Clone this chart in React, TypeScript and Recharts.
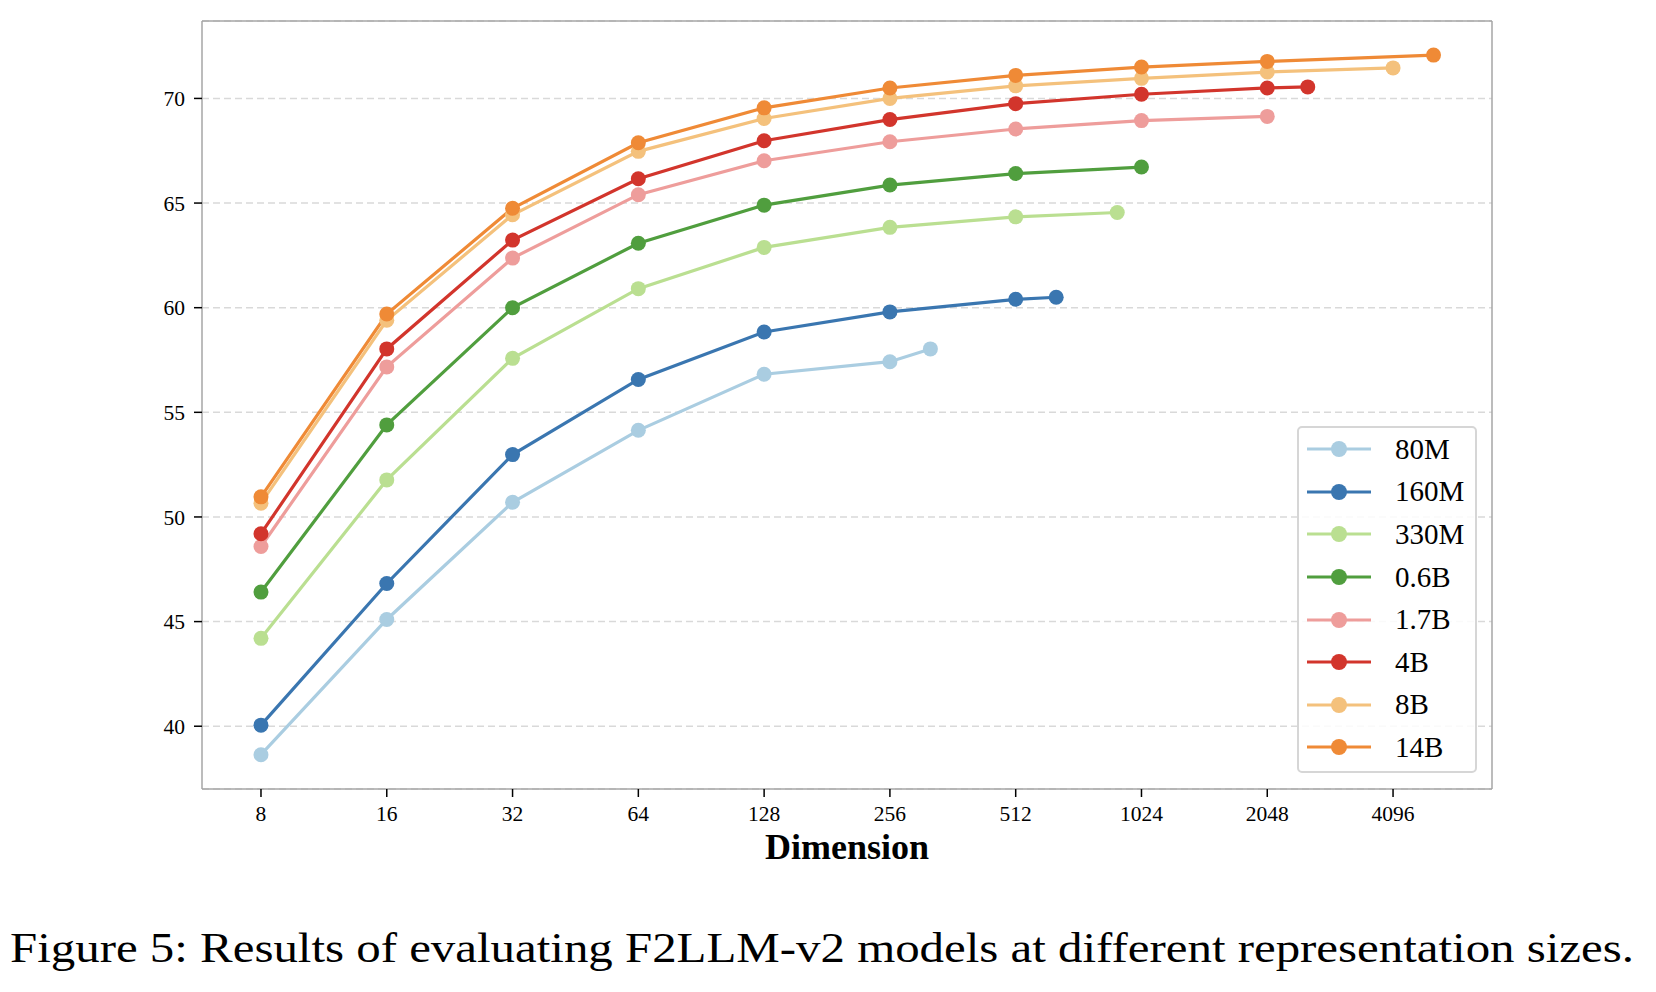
import React from 'react';
import { LineChart, Line, XAxis, YAxis, CartesianGrid, Legend, ReferenceLine } from 'recharts';

// ---- data ----
const X_TICKS = [8, 16, 32, 64, 128, 256, 512, 1024, 2048, 4096];
const Y_TICKS = [40, 45, 50, 55, 60, 65, 70];

const NAMES = ['80M', '160M', '330M', '0.6B', '1.7B', '4B', '8B', '14B'];
const COLORS = ['#aacde1', '#3a76b0', '#badf91', '#509e3e', '#ee9d9b', '#d2352c', '#f4c17c', '#ef8a36'];

const DIMS_80M = [8, 16, 32, 64, 128, 256, 320];
const VALS_80M = [38.64, 45.1, 50.7, 54.14, 56.82, 57.42, 58.03];
const DIMS_160M = [8, 16, 32, 64, 128, 256, 512, 640];
const VALS_160M = [40.05, 46.82, 52.98, 56.57, 58.84, 59.8, 60.4, 60.5];
const DIMS_330M = [8, 16, 32, 64, 128, 256, 512, 896];
const VALS_330M = [44.2, 51.77, 57.58, 60.91, 62.88, 63.84, 64.34, 64.55];
const DIMS_06B = [8, 16, 32, 64, 128, 256, 512, 1024];
const VALS_06B = [46.41, 54.4, 60.0, 63.08, 64.9, 65.86, 66.41, 66.72];
const DIMS_17B = [8, 16, 32, 64, 128, 256, 512, 1024, 2048];
const VALS_17B = [48.59, 57.17, 62.37, 65.4, 67.02, 67.93, 68.54, 68.94, 69.14];
const DIMS_4B = [8, 16, 32, 64, 128, 256, 512, 1024, 2048, 2560];
const VALS_4B = [49.2, 58.03, 63.23, 66.16, 67.98, 68.99, 69.75, 70.2, 70.5, 70.55];
const DIMS_8B = [8, 16, 32, 64, 128, 256, 512, 1024, 2048, 4096];
const VALS_8B = [50.66, 59.4, 64.44, 67.47, 69.04, 70.0, 70.6, 70.96, 71.26, 71.46];
const DIMS_14B = [8, 16, 32, 64, 128, 256, 512, 1024, 2048, 5120];
const VALS_14B = [50.96, 59.7, 64.75, 67.88, 69.55, 70.5, 71.1, 71.5, 71.77, 72.07];

const X_DOMAIN = [5.78, 7066];
const Y_DOMAIN = [37.0, 73.7];

const ALL_DIMS = [DIMS_80M, DIMS_160M, DIMS_330M, DIMS_06B, DIMS_17B, DIMS_4B, DIMS_8B, DIMS_14B];
const ALL_VALS = [VALS_80M, VALS_160M, VALS_330M, VALS_06B, VALS_17B, VALS_4B, VALS_8B, VALS_14B];

const SERIES = NAMES.map((name, i) => ({
  name,
  color: COLORS[i],
  data: ALL_DIMS[i].map((d, j) => ({ dim: d, score: ALL_VALS[i][j] })),
}));

const SERIF = '"Liberation Serif", "Times New Roman", serif';
const FRAME = '#a6a6a6';

const LegendBox = () => (
  <div
    style={{
      width: 176,
      height: 343,
      border: '2px solid #d6d6d6',
      borderRadius: 5,
      background: 'rgba(255,255,255,0.85)',
      paddingTop: 0,
      boxSizing: 'content-box',
    }}
  >
    <div style={{ height: 0 }} />
    {SERIES.map((s, i) => (
      <div
        key={s.name}
        style={{
          display: 'flex',
          alignItems: 'center',
          height: 42.6,
          marginTop: i === 0 ? 0 : 0,
        }}
      >
        <svg width={96} height={20} style={{ display: 'block' }}>
          <line x1={8} y1={10} x2={72} y2={10} stroke={s.color} strokeWidth={3.2} />
          <circle cx={40} cy={10} r={8} fill={s.color} />
        </svg>
        <span style={{ fontFamily: SERIF, fontSize: 29, color: '#000', lineHeight: '29px' }}>{s.name}</span>
      </div>
    ))}
  </div>
);

export default function App() {
  return (
    <div style={{ position: 'absolute', left: 0, top: 0, width: 1656, height: 992, background: '#fff' }}>
      <LineChart
        width={1656}
        height={992}
        margin={{ top: 21, right: 164, bottom: 133, left: 122 }}
      >
        <CartesianGrid vertical={false} stroke="#d9d9d9" strokeDasharray="7 4" strokeWidth={1.5} />
        <XAxis
          dataKey="dim"
          type="number"
          scale="log"
          domain={X_DOMAIN}
          allowDataOverflow
          ticks={X_TICKS}
          interval={0}
          height={70}
          tickSize={8}
          tickMargin={9}
          axisLine={{ stroke: FRAME, strokeWidth: 1.5 }}
          tickLine={{ stroke: '#000', strokeWidth: 1.5 }}
          tick={{ fontFamily: SERIF, fontSize: 21.5, fill: '#000' }}
          label={{
            value: 'Dimension',
            position: 'insideBottom',
            offset: 0,
            style: { fontFamily: SERIF, fontSize: 36, fontWeight: 'bold', fill: '#000' },
          }}
        />
        <YAxis
          type="number"
          domain={Y_DOMAIN}
          allowDataOverflow
          ticks={Y_TICKS}
          interval={0}
          width={80}
          tickSize={8}
          tickMargin={9}
          axisLine={{ stroke: FRAME, strokeWidth: 1.5 }}
          tickLine={{ stroke: '#000', strokeWidth: 1.5 }}
          tick={{ fontFamily: SERIF, fontSize: 21.5, fill: '#000' }}
        />
        <ReferenceLine y={Y_DOMAIN[1]} stroke={FRAME} strokeWidth={1.5} />
        <ReferenceLine x={X_DOMAIN[1]} stroke={FRAME} strokeWidth={1.5} />
        {SERIES.map((s) => (
          <Line
            key={s.name}
            data={s.data}
            dataKey="score"
            name={s.name}
            type="linear"
            stroke={s.color}
            strokeWidth={3.2}
            dot={{ r: 7.5, fill: s.color, stroke: s.color, strokeWidth: 0 }}
            activeDot={false}
            isAnimationActive={false}
          />
        ))}
        <Legend
          layout="vertical"
          align="center"
          verticalAlign="middle"
          content={() => <LegendBox />}
          wrapperStyle={{ left: 1297, top: 426, width: 180, height: 347 }}
        />
      </LineChart>
      <svg
        width={1656}
        height={992}
        style={{ position: 'absolute', left: 0, top: 0, pointerEvents: 'none' }}
      >
        <text
          x={10}
          y={962}
          fontFamily={SERIF}
          fontSize={42}
          fill="#000"
          textLength={1624}
          lengthAdjust="spacingAndGlyphs"
        >
          Figure 5: Results of evaluating F2LLM-v2 models at different representation sizes.
        </text>
      </svg>
    </div>
  );
}
